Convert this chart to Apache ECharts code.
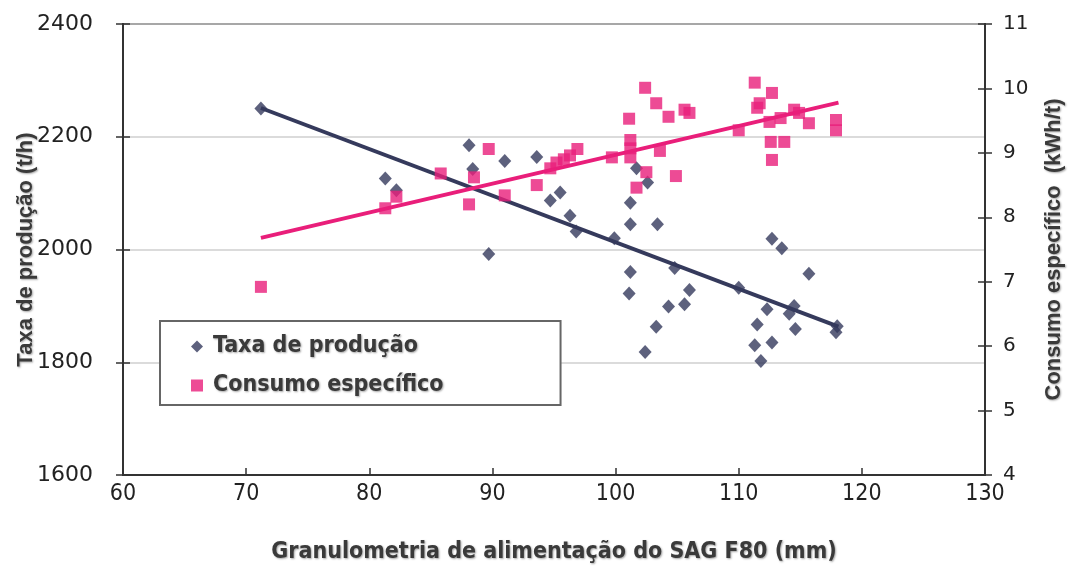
<!DOCTYPE html>
<html><head><meta charset="utf-8">
<script src="https://cdn.jsdelivr.net/npm/echarts@6/dist/echarts.min.js"></script>
<style>html,body{margin:0;padding:0;background:#fff}#c{width:1070px;height:569px}</style>
</head><body><div id="c"></div>
<script>
// Taxa de produção (t/h) vs F80 (mm)
const taxaX = [71.2,81.3,82.2,88.1,88.4,89.7,91.0,93.6,94.7,95.5,96.3,96.8,99.9,101.2,101.2,101.2,101.1,101.7,102.6,103.4,104.8,106.0,104.3,105.6,103.3,102.4,112.7,113.5,115.7,110.0,112.3,114.5,114.1,111.5,114.6,112.7,111.3,111.8,118.0,117.9];
const taxaY = [2250,2126,2105,2185,2143,1992,2157,2164,2087,2101,2060,2032,2020,2083,2045,1960,1922,2144,2119,2045,1967,1928,1899,1903,1863,1818,2019,2002,1957,1932,1894,1900,1886,1867,1859,1835,1830,1802,1864,1853];
// Consumo específico (kWh/t) vs F80 (mm)
const consX = [71.2,81.3,82.2,85.8,88.5,88.1,89.7,91.0,93.6,94.7,95.2,95.8,96.3,96.9,99.7,101.1,101.2,101.2,101.2,101.7,102.4,102.5,103.3,103.6,104.3,104.9,105.6,106.0,110.0,111.3,111.5,111.7,112.5,112.6,112.7,112.7,113.4,113.7,114.5,114.9,115.7,117.9,117.9];
const consY = [6.92,8.14,8.32,8.68,8.62,8.20,9.06,8.34,8.50,8.76,8.85,8.90,8.96,9.06,8.93,9.53,9.20,9.07,8.93,8.46,10.01,8.70,9.77,9.03,9.56,8.64,9.67,9.62,9.35,10.09,9.70,9.77,9.48,9.17,9.93,8.89,9.54,9.17,9.67,9.62,9.46,9.51,9.35];
// Linear trend lines (endpoints)
const trendX = [71.2, 118.1];
const taxaTrend = [2251, 1863];
const consTrend = [7.68, 9.78];
// Axis tick settings
const xTicks = {min:60, max:130, interval:10};
const yLeftTicks = {min:1600, max:2400, interval:200};
const yRightTicks = {min:4, max:11, interval:1};

const DARK = '#353a5c', PINK = '#e91e7a', AXIS = '#333';
const COND = "'DejaVu Sans Condensed', 'DejaVu Sans', sans-serif";
const zip = (a,b) => a.map((v,i)=>[v,b[i]]);
const chart = echarts.init(document.getElementById('c'));
const sh = {textShadowColor:'rgba(0,0,0,0.35)', textShadowBlur:2, textShadowOffsetX:1, textShadowOffsetY:1};
const yBase = (t, pos, inside, labels, margin, fs) => ({
  type:'value', position:pos, min:t.min, max:t.max, interval:t.interval,
  axisLine:{show:true, lineStyle:{color:AXIS, width:2}},
  axisTick:{show:true, inside:inside, length:7, lineStyle:{color:AXIS, width:1.5}},
  axisLabel:{show:labels, color:'#222', fontFamily:'DejaVu Sans', fontSize:fs||20, margin:margin||12, formatter:v=>String(v)},
  splitLine:{show:false}
});
const yL = yBase(yLeftTicks,'left',false,true,30,22);
yL.splitLine = {show:true, lineStyle:{color:'#cfcfcf', width:1.5}};
yL.name = 'Taxa de produção (t/h)';
yL.nameLocation='middle'; yL.nameGap=86; yL.nameRotate=90; yL.nameMoveOverlap=false;
yL.nameTextStyle={fontFamily:'Liberation Sans', fontWeight:'bold', fontSize:22, color:'#3a3a3a', ...sh};
const yR = yBase(yRightTicks,'right',false,true,18,20);
yR.name = 'Consumo específico  (kWh/t)';
yR.nameLocation='middle'; yR.nameGap=58; yR.nameRotate=90;
yR.nameTextStyle={fontFamily:'Liberation Sans', fontWeight:'bold', fontSize:22, color:'#3a3a3a', ...sh};

chart.setOption({
  animation:false,
  backgroundColor:'#fff',
  grid:{left:123, right:85, top:24, bottom:94, outerBoundsMode:'none', containLabel:false,
        show:true, borderColor:AXIS, borderWidth:2, backgroundColor:'transparent'},
  xAxis:{type:'value', min:xTicks.min, max:xTicks.max, interval:xTicks.interval,
    axisLine:{show:true, lineStyle:{color:AXIS, width:2}},
    axisTick:{show:true, inside:true, length:7, lineStyle:{color:AXIS, width:1.5}},
    axisLabel:{color:'#222', fontFamily:COND, fontSize:23, margin:8},
    splitLine:{show:false},
    name:'Granulometria de alimentação do SAG F80 (mm)', nameLocation:'middle', nameGap:66,
    nameTextStyle:{fontFamily:COND, fontWeight:'bold', fontSize:23, color:'#3a3a3a', ...sh}
  },
  yAxis:[yL, yR, yBase(yLeftTicks,'left',true,false), yBase(yRightTicks,'right',true,false)],
  legend:{
    data:[{name:'Taxa de produção', icon:'diamond'},{name:'Consumo específico', icon:'rect'}],
    orient:'vertical', left:160, top:321,
    backgroundColor:'#fff', borderColor:'#666', borderWidth:2, borderRadius:0,
    padding:[14,117,8,31], itemGap:16, itemWidth:12, itemHeight:12,
    textStyle:{fontFamily:COND, fontWeight:'bold', fontSize:23, color:'#3a3a3a', padding:[0,0,0,5], ...sh}
  },
  series:[
    {name:'Taxa trend', type:'line', yAxisIndex:0, data:zip(trendX,taxaTrend), showSymbol:false, lineStyle:{color:DARK, width:4}, z:2},
    {name:'Consumo trend', type:'line', yAxisIndex:1, data:zip(trendX,consTrend), showSymbol:false, lineStyle:{color:PINK, width:4}, z:2},
    {name:'Taxa de produção', type:'scatter', yAxisIndex:0, data:zip(taxaX,taxaY), symbol:'diamond', symbolSize:[13,14], itemStyle:{color:DARK}, z:3},
    {name:'Consumo específico', type:'scatter', yAxisIndex:1, data:zip(consX,consY), symbol:'rect', symbolSize:12, itemStyle:{color:PINK}, z:3}
  ]
});
</script></body></html>
